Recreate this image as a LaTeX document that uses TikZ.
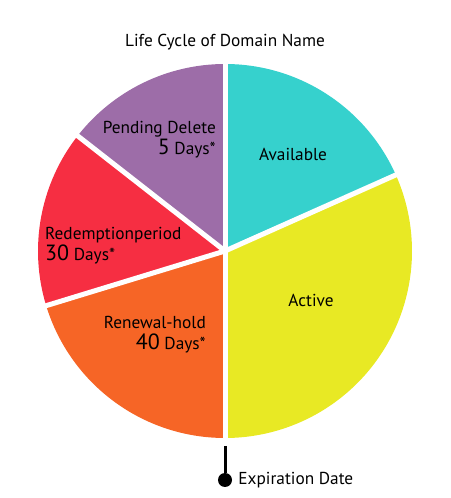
\documentclass[tikz,border=0pt]{standalone}
\usepackage{fontspec}
\setmainfont{PT Sans}
\usetikzlibrary{positioning, calc}
\definecolor{availC}{RGB}{54,209,205}
\definecolor{activeC}{RGB}{232,233,36}
\definecolor{renewC}{RGB}{246,101,38}
\definecolor{redemC}{RGB}{246,46,66}
\definecolor{pendC}{RGB}{157,109,168}
\tikzstyle{gap} = [draw=white, line width=5pt]
\tikzstyle{lbl} = [inner sep=0pt, font=\fontsize{17.3}{21}\selectfont]
\newcommand{\bignum}[1]{{\fontsize{22}{21}\selectfont #1}}

\begin{document}
\begin{tikzpicture}[x=1pt, y=1pt]
  \useasboundingbox (0,0) rectangle (450,498);
  \coordinate (o) at (225,247);
  % slices
  \foreach \a/\b/\c in {24/90/availC, 90/142/pendC, 142/197/redemC, 197/270/renewC, 270/384/activeC}
    \fill[\c] (o) -- ++(\a:187) arc[start angle=\a, end angle=\b, radius=187] -- cycle;
  \foreach \a in {24,90,142,197,270}
    \draw[gap] (o) -- ++(\a:190);

  \node[lbl] (title) at (225,456) {Life Cycle of Domain Name};
  \node[lbl] (avail) at (293,344) {Available};
  \node[lbl] (active) at (311,198) {Active};
  \node[lbl, align=right, anchor=north east] (pend) at (216,377) {Pending Delete\\\bignum{5} Days*};
  \node[lbl, align=left, anchor=north west] (redem) at (45,271) {Redemptionperiod\\\bignum{30} Days*};
  \node[lbl, align=right, anchor=north east] (renew) at (206,182) {Renewal-hold\\\bignum{40} Days*};

  \coordinate (expTop) at (225,52);
  \node[circle, fill=black, inner sep=0pt, minimum size=14pt] (expDot) at (225,18) {};
  \draw[line width=3pt] (expTop) -- (expDot);
  \node[lbl, right=6pt of expDot] (exp) {Expiration Date};
\end{tikzpicture}
\end{document}
